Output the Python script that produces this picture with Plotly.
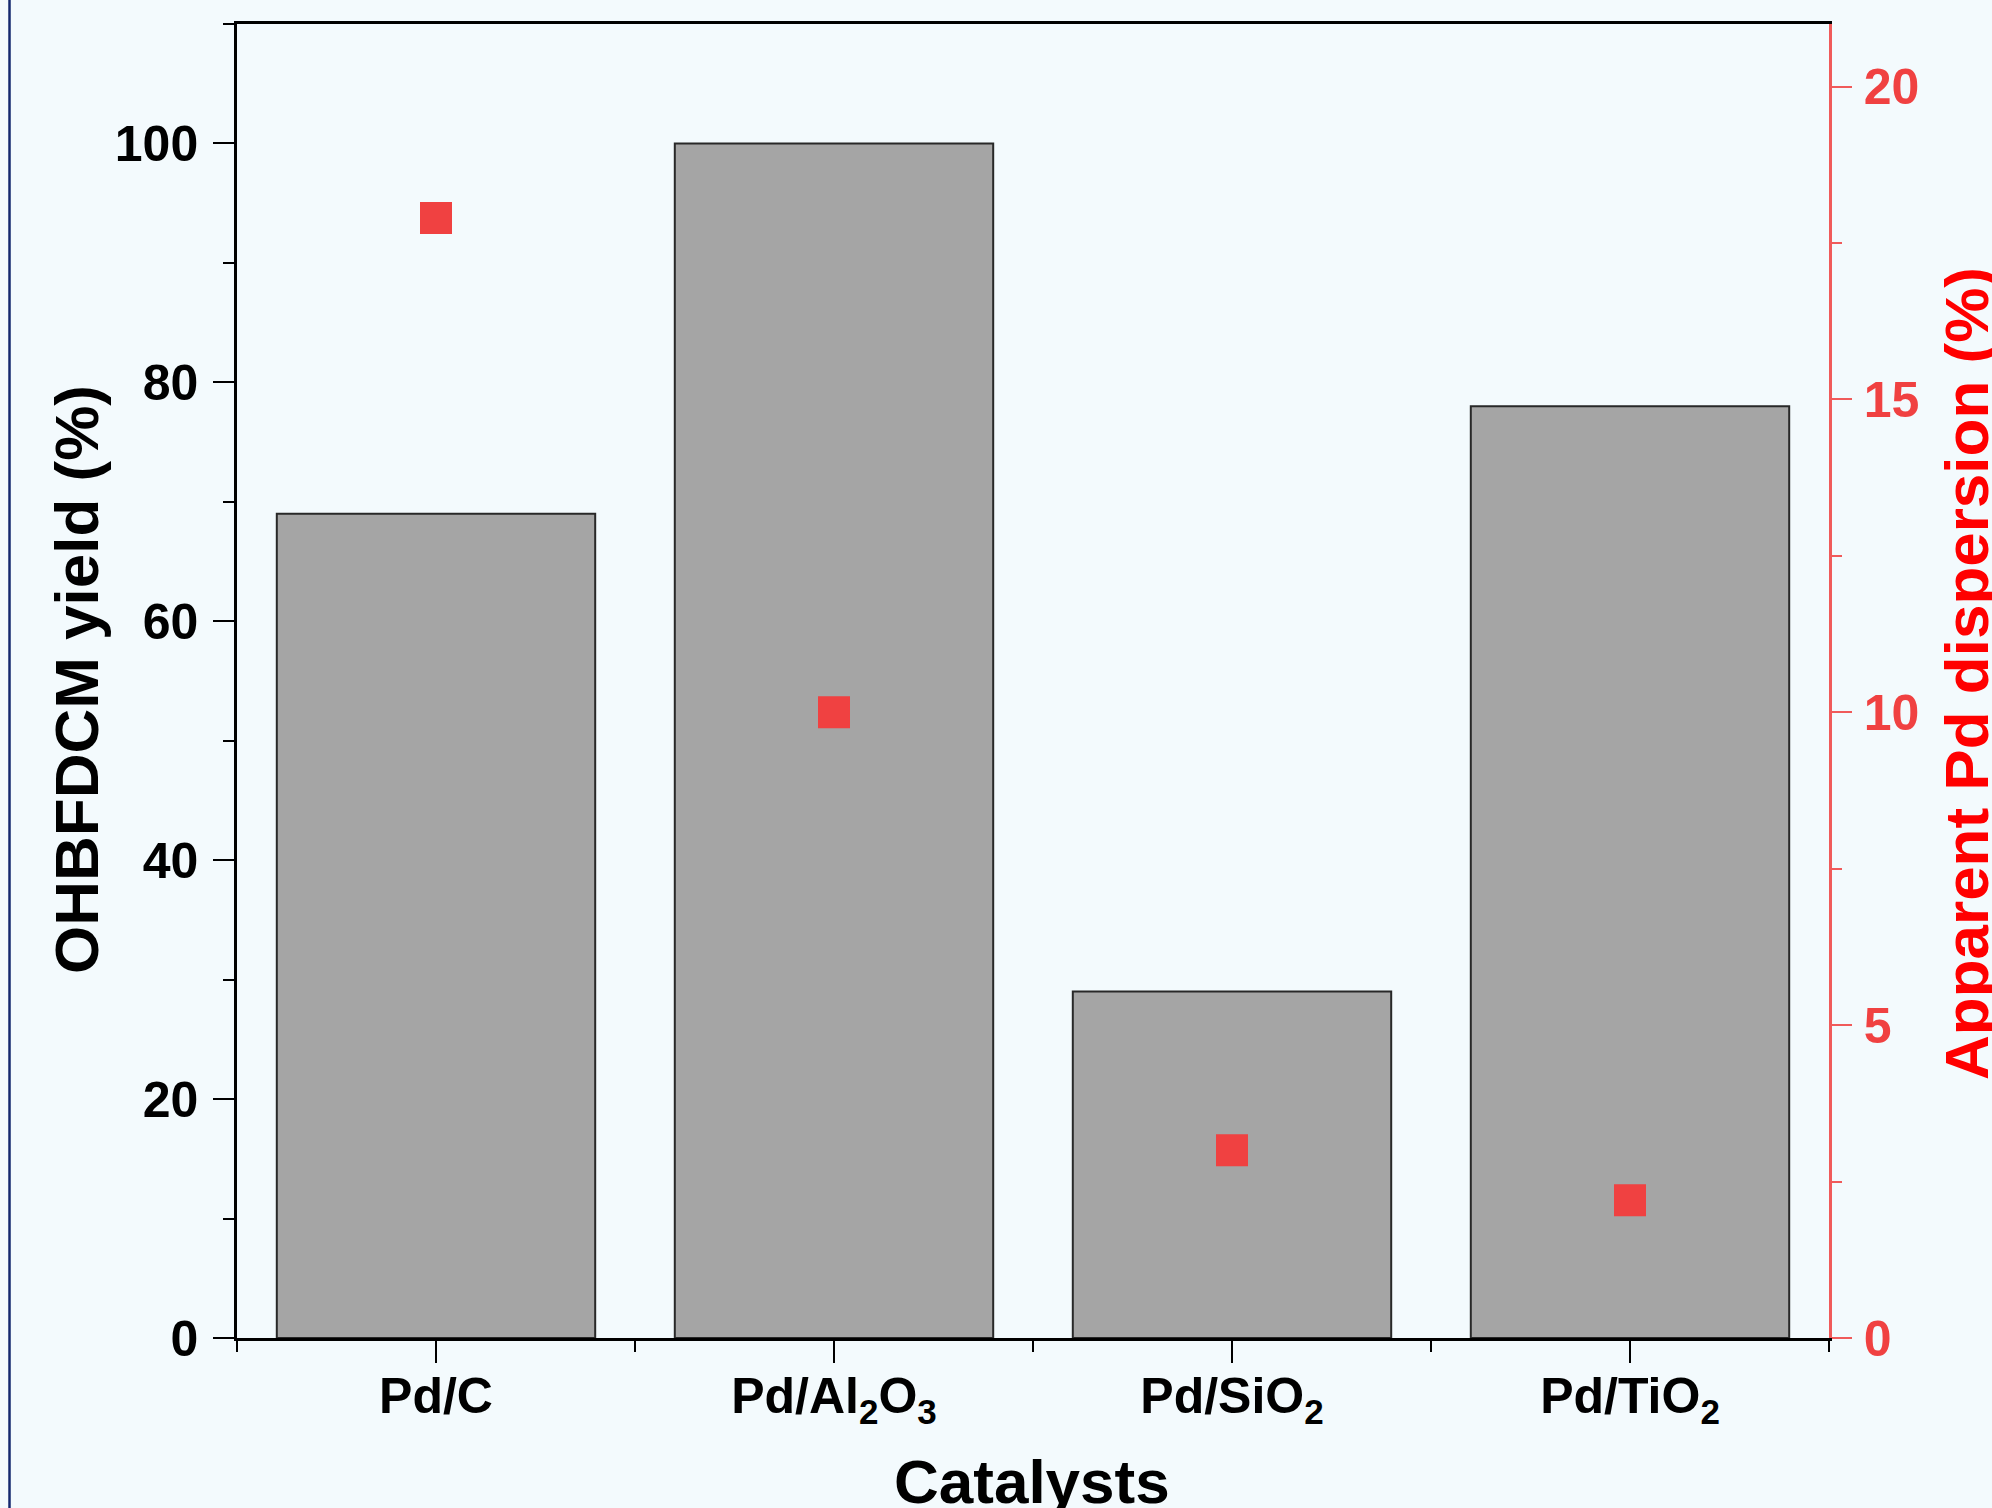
import plotly.graph_objects as go

categories = ["Pd/C", "Pd/Al<sub>2</sub>O<sub>3</sub>", "Pd/SiO<sub>2</sub>", "Pd/TiO<sub>2</sub>"]
yield_pct = [69, 100, 29, 78]
dispersion_pct = [17.9, 10.0, 3.0, 2.2]

x_pos = list(range(len(categories)))

W, H = 1992, 1508
ML, MR, MT, MB = 237, 163, 24, 170
PW = W - ML - MR
PH = H - MT - MB

FONT = "Liberation Sans, Arial, sans-serif"
BG = "rgb(243,250,253)"
RED = "rgb(240,65,65)"

fig = go.Figure()
fig.add_trace(go.Bar(
    x=x_pos, y=yield_pct, width=0.8,
    marker=dict(color="rgb(165,165,165)", line=dict(color="rgb(40,40,40)", width=2)),
    showlegend=False,
))
fig.add_trace(go.Scatter(
    x=x_pos, y=dispersion_pct, yaxis="y2", mode="markers",
    marker=dict(symbol="square", size=32, color=RED, line=dict(width=0)),
    showlegend=False,
))

tickfont_black = dict(family=FONT, size=50, color="black", weight="bold")

fig.update_layout(
    width=W, height=H, autosize=False,
    margin=dict(l=ML, r=MR, t=MT, b=MB, pad=0),
    paper_bgcolor=BG, plot_bgcolor=BG,
    bargap=0.2,
    xaxis=dict(
        range=[-0.5, 3.5], tickmode="array", tickvals=x_pos, ticktext=categories,
        showline=True, linecolor="black", linewidth=3, mirror=True,
        ticks="outside", ticklen=22, tickwidth=2, tickcolor="black",
        minor=dict(tickmode="linear", tick0=0.5, dtick=1, ticks="outside",
                   ticklen=11, tickwidth=2, tickcolor="black"),
        showgrid=False, zeroline=False, tickfont=tickfont_black,
        ticklabelstandoff=-10,
    ),
    yaxis=dict(
        range=[0, 110], tickmode="linear", tick0=0, dtick=20,
        showline=True, linecolor="black", linewidth=2.5, mirror=False,
        ticks="outside", ticklen=21, tickwidth=2, tickcolor="black",
        minor=dict(tickmode="linear", tick0=0, dtick=10, ticks="outside",
                   ticklen=11, tickwidth=2, tickcolor="black"),
        showgrid=False, zeroline=False, tickfont=tickfont_black,
        ticklabelstandoff=5,
    ),
    yaxis2=dict(
        overlaying="y", side="right", anchor="x",
        range=[0, 21], tickmode="linear", tick0=0, dtick=5,
        showline=True, linecolor="rgb(240,90,90)", linewidth=2.5,
        ticks="outside", ticklen=20, tickwidth=2, tickcolor="rgb(240,90,90)",
        minor=dict(tickmode="linear", tick0=0, dtick=2.5, ticks="outside",
                   ticklen=10, tickwidth=1.5, tickcolor="rgb(240,90,90)"),
        showgrid=False, zeroline=False,
        tickfont=dict(family=FONT, size=50, color=RED, weight="bold"),
        ticklabelstandoff=2,
    ),
)

def px_x(px):
    return (px - ML) / PW

def px_y(py):
    return 1 - (py - MT) / PH

fig.add_annotation(
    text="OHBFDCM yield (%)", textangle=-90, showarrow=False,
    xref="paper", yref="paper", x=px_x(76), y=px_y(680),
    xanchor="center", yanchor="middle",
    font=dict(family=FONT, size=62, color="black", weight="bold"),
)
fig.add_annotation(
    text="Apparent Pd dispersion (%)", textangle=-90, showarrow=False,
    xref="paper", yref="paper", x=px_x(1966), y=px_y(674),
    xanchor="center", yanchor="middle",
    font=dict(family=FONT, size=62, color="red", weight="bold"),
)
fig.add_annotation(
    text="Catalysts", showarrow=False,
    xref="paper", yref="paper", x=px_x(1032), y=px_y(1481),
    xanchor="center", yanchor="middle",
    font=dict(family=FONT, size=62, color="black", weight="bold"),
)

fig.add_shape(
    type="line", xref="paper", yref="paper",
    x0=px_x(9.5), x1=px_x(9.5), y0=px_y(H + 5), y1=px_y(-5),
    line=dict(color="rgb(20,40,110)", width=2.5),
)

fig.write_html(
    "out.html",
    config={"displayModeBar": False},
    post_script="document.body.style.margin='0';document.body.style.overflow='hidden';",
)
